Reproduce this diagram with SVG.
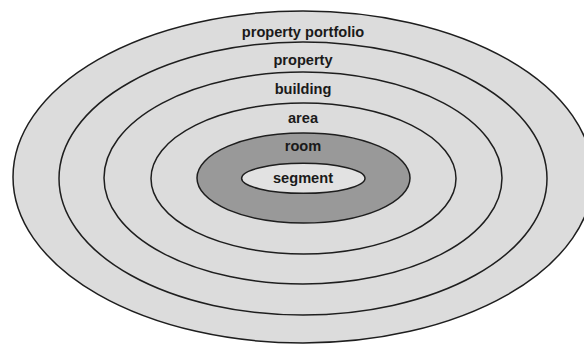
<svg xmlns="http://www.w3.org/2000/svg" width="584" height="345" viewBox="0 0 584 345">
<style>
.ring{stroke:#1e1e1e;stroke-width:1.5;fill:#dcdcdc}
.dark{fill:#999999}
.light{fill:#e2e2e2}
.lbl{font-family:"Liberation Sans",Arial,sans-serif;font-weight:bold;font-size:14.6px;fill:#1a1a1a;text-anchor:middle}
</style>
<rect width="584" height="345" fill="#ffffff"/>
<g id="portfolio">
<ellipse class="ring" cx="303" cy="177" rx="290" ry="166"/>
<text class="lbl" x="303" y="36.5">property portfolio</text>
</g>
<g id="property">
<ellipse class="ring" cx="303" cy="178.5" rx="244" ry="136.5"/>
<text class="lbl" x="303" y="64.5">property</text>
</g>
<g id="building">
<ellipse class="ring" cx="303" cy="178" rx="199" ry="106"/>
<text class="lbl" x="303" y="93.5">building</text>
</g>
<g id="area">
<ellipse class="ring" cx="303.5" cy="178.5" rx="152.5" ry="75.5"/>
<text class="lbl" x="303" y="122.5">area</text>
</g>
<g id="room">
<ellipse class="ring dark" cx="303.5" cy="178" rx="106.5" ry="45"/>
<text class="lbl" x="303" y="151">room</text>
</g>
<g id="segment">
<ellipse class="ring light" cx="303.3" cy="178.3" rx="61.7" ry="15"/>
<text class="lbl" x="303" y="183.3">segment</text>
</g>
<g id="connectors"/>
</svg>
